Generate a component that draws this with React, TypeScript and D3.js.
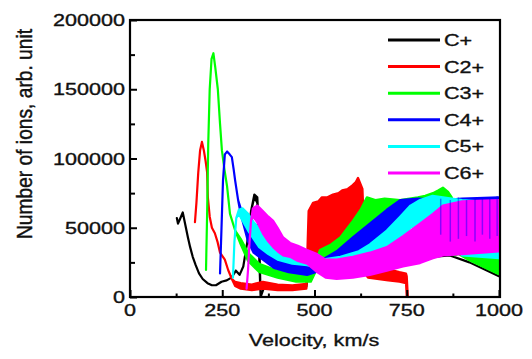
import React, { useEffect, useRef } from "react";
import * as d3 from "d3";

type Pt = [number, number, number]; // velocity, low, high

const xTicks = [0, 250, 500, 750, 1000];
const yTicks = [0, 50000, 100000, 150000, 200000];
const seriesNames = ["C+", "C2+", "C3+", "C4+", "C5+", "C6+"];
const seriesColors = ["#000000", "#ff0000", "#00ff00", "#0000ff", "#00ffff", "#ff00ff"];

const cPlus: Pt[] = [
  [127, 57000, 57000], [130, 53000, 53000], [135, 56000, 56000], [143, 61000, 61000],
  [150, 52000, 52000], [157, 43000, 43000], [163, 36000, 36000], [170, 29000, 29000],
  [178, 23000, 23000], [187, 17000, 17000], [197, 13000, 13000], [210, 10000, 10000],
  [222, 8500, 8500], [233, 8500, 8500], [248, 11000, 11000], [262, 12000, 12000],
  [275, 14000, 14000], [287, 19000, 19000], [297, 16000, 16000], [307, 22000, 22000],
  [318, 40000, 40000], [328, 62000, 62000], [337, 72000, 74000], [345, 68000, 72000],
  [350, 30000, 45000], [354, 0, 0], [362, 6000, 6000], [420, 7000, 7000],
  [478, 7500, 7500], [484, 20000, 20000], [580, 20000, 20000], [680, 24000, 24000],
  [780, 28000, 28000], [867, 30000, 30000], [920, 25000, 25000], [960, 20000, 20000],
  [1000, 15000, 15000],
];

const c2Plus: Pt[] = [
  [176, 54000, 54000], [180, 68000, 68000], [185, 90000, 90000], [190, 106000, 106000],
  [195, 112000, 112000], [200, 106000, 106000], [205, 98000, 98000], [209, 90000, 90000],
  [211, 72000, 72000], [216, 58000, 58000], [222, 50000, 50000], [230, 46000, 46000],
  [237, 40000, 40000], [244, 32000, 32000], [257, 27000, 27000], [266, 19500, 19500],
  [276, 13000, 13000], [285, 8000, 11000], [300, 6000, 10000], [330, 5000, 9000],
  [360, 6000, 11000], [400, 5000, 9000], [440, 5000, 8500], [478, 6000, 9500],
  [484, 32000, 62000], [496, 30000, 68000], [510, 30000, 69000], [520, 30000, 72000],
  [535, 30000, 72000], [550, 30000, 74000], [565, 30000, 75000], [575, 30000, 77000],
  [590, 30000, 78000], [600, 30000, 80000], [612, 30000, 83000], [618, 30000, 86000],
  [624, 30000, 82000], [630, 25000, 78000], [634, 18000, 50000], [645, 14000, 30000],
  [670, 13000, 24000], [700, 12000, 20000], [730, 11000, 18000], [748, 10000, 17000],
  [750, 0, 15000], [753, 0, 0],
];

const c3Plus: Pt[] = [
  [206, 19500, 19500], [209, 60000, 60000], [212, 110000, 110000], [216, 150000, 150000],
  [221, 172000, 172000], [226, 176000, 176000], [231, 166000, 166000], [238, 150000, 150000],
  [244, 125000, 125000], [249, 106000, 106000], [256, 92000, 92000], [263, 80000, 80000],
  [271, 60000, 60000], [285, 48000, 48000], [300, 38000, 42000], [320, 26000, 32000],
  [350, 18000, 24000], [400, 14000, 19000], [450, 11000, 16000], [490, 11000, 17000],
  [515, 25000, 34000], [545, 28000, 38000], [570, 32000, 43000], [604, 40000, 55000],
  [625, 45000, 63000], [642, 50000, 72000], [665, 56000, 70000], [690, 60000, 71000],
  [732, 66000, 70000], [780, 64000, 72000], [800, 64000, 73000], [821, 64000, 75000],
  [835, 64000, 77000], [848, 64000, 79000], [862, 60000, 76000], [872, 45000, 72000],
  [880, 30000, 55000], [890, 31000, 33000], [920, 26500, 31000], [960, 21500, 31000],
  [1000, 16500, 31000],
];

const c4Plus: Pt[] = [
  [244, 17000, 17000], [248, 50000, 50000], [252, 84000, 84000], [257, 103000, 103000],
  [263, 105000, 105000], [270, 103000, 103000], [276, 101000, 101000], [281, 92000, 92000],
  [285, 84000, 84000], [293, 70000, 70000], [300, 60000, 64000], [310, 50000, 56000],
  [320, 40000, 48000], [335, 32000, 40000], [360, 27000, 34000], [390, 21000, 30000],
  [430, 18000, 27000], [480, 16000, 24000], [515, 19000, 26000], [560, 22000, 33000],
  [604, 27000, 43000], [650, 32000, 53000], [696, 40000, 63000], [732, 50000, 70000],
  [780, 60000, 71000], [850, 60000, 70000], [900, 55000, 71000], [1000, 55000, 72000],
];

const c5Plus: Pt[] = [
  [279, 14000, 14000], [283, 40000, 40000], [288, 57000, 57000], [295, 60000, 63000],
  [305, 55000, 64000], [320, 48000, 60000], [335, 42000, 54000], [350, 36000, 50000],
  [375, 31000, 43000], [400, 27000, 37000], [440, 24000, 33000], [480, 23000, 30000],
  [520, 20000, 27000], [570, 22000, 29000], [620, 26000, 33000], [650, 30000, 38000],
  [696, 34000, 48000], [732, 42000, 58000], [760, 50000, 66000], [786, 53000, 70000],
  [820, 60000, 73000], [848, 62000, 72000], [900, 30000, 70000], [1000, 28000, 68000],
];

const c6Plus: Pt[] = [
  [316, 6000, 6000], [320, 20000, 20000], [324, 40000, 40000], [328, 55000, 55000],
  [333, 58000, 64000], [345, 54000, 66000], [360, 46000, 62000], [375, 40000, 58000],
  [388, 36000, 55000], [400, 33000, 50000], [415, 30000, 43000], [434, 29000, 39000],
  [455, 26000, 37000], [480, 24000, 34000], [507, 18000, 31000], [530, 14000, 27000],
  [560, 13000, 27000], [604, 14000, 29000], [650, 16000, 32000], [696, 19000, 36000],
  [740, 22000, 44000], [786, 24500, 53000], [821, 28000, 60000], [848, 30000, 66000],
  [900, 31000, 69000], [1000, 33000, 70000],
];

// thin blue streaks that show through the magenta on the right
const c4Spikes: Pt[] = [
  [842, 45000, 71000], [868, 40000, 70000], [890, 42000, 72000], [912, 44000, 70000],
  [935, 40000, 71000], [955, 45000, 72000], [975, 42000, 71000], [995, 44000, 73000],
];

const allSeries = [cPlus, c2Plus, c3Plus, c4Plus, c5Plus, c6Plus];

const W = 532;
const H = 359;
const STRETCH = 1.27;

function stretchText(sel: d3.Selection<SVGTextElement, any, any, any>) {
  sel.each(function () {
    const len = this.getComputedTextLength();
    d3.select(this)
      .attr("textLength", len * STRETCH)
      .attr("lengthAdjust", "spacingAndGlyphs");
  });
}

export default function App() {
  const ref = useRef<SVGSVGElement>(null);

  useEffect(() => {
    const svg = d3.select(ref.current);
    svg.selectAll("*").remove();

    const x = d3.scaleLinear().domain([0, 1000]).range([130, 499]);
    const y = d3.scaleLinear().domain([0, 200000]).range([297, 20]);

    svg
      .append("defs")
      .append("clipPath")
      .attr("id", "plot-clip")
      .append("rect")
      .attr("x", 130)
      .attr("y", 20)
      .attr("width", 369)
      .attr("height", 277);

    const plot = svg.append("g").attr("clip-path", "url(#plot-clip)");

    const area = d3
      .area<Pt>()
      .x(d => x(d[0]))
      .y0(d => y(d[1]))
      .y1(d => y(d[2]));

    allSeries.forEach((data, i) => {
      plot
        .append("path")
        .attr("d", area(data))
        .attr("fill", seriesColors[i])
        .attr("stroke", seriesColors[i])
        .attr("stroke-width", 2.2)
        .attr("stroke-linejoin", "round");
    });

    plot
      .append("g")
      .selectAll("line")
      .data(c4Spikes)
      .enter()
      .append("line")
      .attr("x1", d => x(d[0]))
      .attr("x2", d => x(d[0]))
      .attr("y1", d => y(d[1]))
      .attr("y2", d => y(d[2]))
      .attr("stroke", "#0000ff")
      .attr("stroke-width", 1.5)
      .attr("opacity", 0.45);

    // axes: inward ticks
    const xAxis = d3
      .axisBottom(x)
      .tickValues(d3.range(0, 1001, 125))
      .tickSize(0)
      .tickFormat(() => "");
    const gx = svg.append("g").attr("transform", "translate(0,297)").call(xAxis);
    gx.select(".domain").remove();
    gx.selectAll(".tick line")
      .attr("y2", (d: any) => (d % 250 === 0 ? -7 : -3.5))
      .attr("stroke", "#000")
      .attr("stroke-width", 2);

    const yAxis = d3
      .axisLeft(y)
      .tickValues(d3.range(0, 200001, 25000))
      .tickSize(0)
      .tickFormat(() => "");
    const gy = svg.append("g").attr("transform", "translate(130,0)").call(yAxis);
    gy.select(".domain").remove();
    gy.selectAll(".tick line")
      .attr("x2", (d: any) => (d % 50000 === 0 ? 7 : 5))
      .attr("stroke", "#000")
      .attr("stroke-width", 2);

    svg
      .append("rect")
      .attr("x", 130)
      .attr("y", 20)
      .attr("width", 370)
      .attr("height", 277)
      .attr("fill", "none")
      .attr("stroke", "#000")
      .attr("stroke-width", 2.2);

    const font = "'Liberation Sans', Arial, sans-serif";
    const textStyle = (t: any) =>
      t
        .attr("font-family", font)
        .attr("font-size", 17)
        .attr("fill", "#111")
        .attr("stroke", "#111")
        .attr("stroke-width", 0.35);

    const xLabels = svg
      .append("g")
      .selectAll("text")
      .data(xTicks)
      .enter()
      .append("text")
      .attr("x", d => x(d))
      .attr("y", 316)
      .attr("text-anchor", "middle")
      .call(textStyle)
      .text(d => String(d));
    stretchText(xLabels as any);

    const yLabels = svg
      .append("g")
      .selectAll("text")
      .data(yTicks)
      .enter()
      .append("text")
      .attr("x", 125)
      .attr("y", d => y(d) + 6)
      .attr("text-anchor", "end")
      .call(textStyle)
      .text(d => String(d));
    stretchText(yLabels as any);

    const xTitle = svg
      .append("text")
      .attr("x", 314)
      .attr("y", 346)
      .attr("text-anchor", "middle")
      .call(textStyle)
      .text("Velocity, km/s");
    stretchText(xTitle as any);

    svg
      .append("text")
      .attr("transform", `translate(32,134) scale(${STRETCH},1) rotate(-90)`)
      .attr("text-anchor", "middle")
      .call(textStyle)
      .attr("textLength", 210)
      .attr("lengthAdjust", "spacingAndGlyphs")
      .text("Number of ions, arb. unit");

    // legend
    const legend = svg
      .append("g")
      .selectAll("g")
      .data(seriesNames)
      .enter()
      .append("g")
      .attr("transform", (d, i) => `translate(0,${40 + i * 26.6})`);
    legend
      .append("line")
      .attr("x1", 388)
      .attr("x2", 440)
      .attr("stroke", (d, i) => seriesColors[i])
      .attr("stroke-width", 3);
    const legendText = legend
      .append("text")
      .attr("x", 444)
      .attr("y", 6)
      .call(textStyle)
      .text(d => d);
    stretchText(legendText as any);
  }, []);

  return <svg ref={ref} width={W} height={H} style={{ display: "block", margin: -8 }} />;
}
